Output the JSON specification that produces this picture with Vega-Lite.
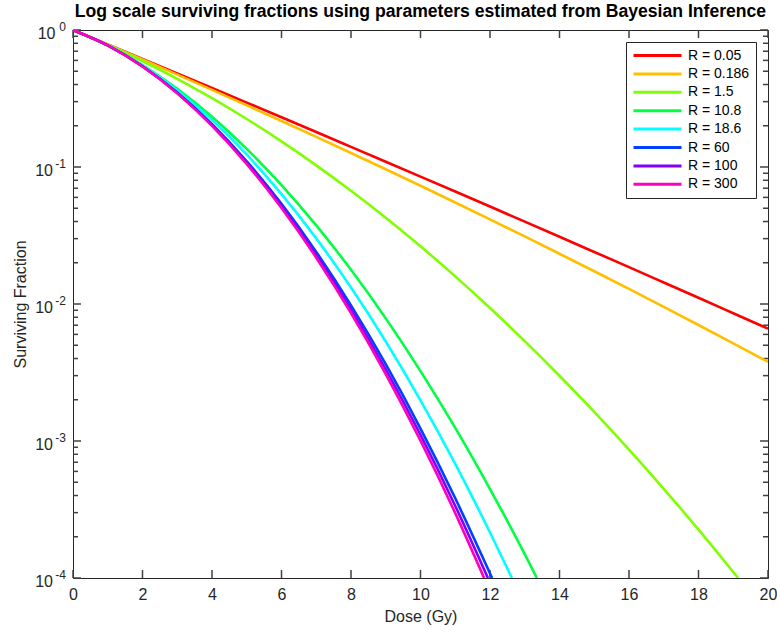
{
  "$schema": "https://vega.github.io/schema/vega-lite/v6.json",
  "width": 695,
  "height": 548,
  "autosize": {"type": "none"},
  "padding": {"left": 73, "top": 30, "right": 9, "bottom": 55},
  "background": "white",
  "title": {
    "text": "Log scale surviving fractions using parameters estimated from Bayesian Inference",
    "font": "Liberation Sans",
    "fontSize": 17.6,
    "fontWeight": "bold",
    "color": "#000000",
    "anchor": "middle",
    "offset": 0
  },
  "config": {
    "view": {"stroke": "#262626", "strokeWidth": 1},
    "font": "Liberation Sans",
    "axis": {
      "grid": false,
      "domain": false,
      "ticks": false,
      "labelColor": "#262626",
      "titleColor": "#262626",
      "labelFont": "Liberation Sans",
      "titleFont": "Liberation Sans",
      "labelFontSize": 16,
      "titleFontSize": 16,
      "titleFontWeight": "normal"
    }
  },
  "datasets": {
    "xTicks": [
      {"v": 0}, {"v": 2}, {"v": 4}, {"v": 6}, {"v": 8}, {"v": 10},
      {"v": 12}, {"v": 14}, {"v": 16}, {"v": 18}, {"v": 20}
    ],
    "yMajor": [
      {"v": 0.0001}, {"v": 0.001}, {"v": 0.01}, {"v": 0.1}, {"v": 1}
    ],
    "yMinor": [
      {"v": 0.0002}, {"v": 0.0003}, {"v": 0.0004}, {"v": 0.0005}, {"v": 0.0006}, {"v": 0.0007}, {"v": 0.0008}, {"v": 0.0009},
      {"v": 0.002}, {"v": 0.003}, {"v": 0.004}, {"v": 0.005}, {"v": 0.006}, {"v": 0.007}, {"v": 0.008}, {"v": 0.009},
      {"v": 0.02}, {"v": 0.03}, {"v": 0.04}, {"v": 0.05}, {"v": 0.06}, {"v": 0.07}, {"v": 0.08}, {"v": 0.09},
      {"v": 0.2}, {"v": 0.3}, {"v": 0.4}, {"v": 0.5}, {"v": 0.6}, {"v": 0.7}, {"v": 0.8}, {"v": 0.9}
    ],
    "exponents": [
      {"sf": 1, "exponent": "0"},
      {"sf": 0.1, "exponent": "-1"},
      {"sf": 0.01, "exponent": "-2"},
      {"sf": 0.001, "exponent": "-3"},
      {"sf": 0.0001, "exponent": "-4"}
    ],
    "curves": [
      {"series": "R = 0.05", "dose": 0, "sf": 1},
      {"series": "R = 0.05", "dose": 1, "sf": 0.7849},
      {"series": "R = 0.05", "dose": 2, "sf": 0.6155},
      {"series": "R = 0.05", "dose": 3, "sf": 0.4822},
      {"series": "R = 0.05", "dose": 4, "sf": 0.3774},
      {"series": "R = 0.05", "dose": 5, "sf": 0.2951},
      {"series": "R = 0.05", "dose": 6, "sf": 0.2306},
      {"series": "R = 0.05", "dose": 7, "sf": 0.18},
      {"series": "R = 0.05", "dose": 8, "sf": 0.1403},
      {"series": "R = 0.05", "dose": 9, "sf": 0.1093},
      {"series": "R = 0.05", "dose": 10, "sf": 0.0851},
      {"series": "R = 0.05", "dose": 11, "sf": 0.0662},
      {"series": "R = 0.05", "dose": 12, "sf": 0.05143},
      {"series": "R = 0.05", "dose": 13, "sf": 0.03992},
      {"series": "R = 0.05", "dose": 14, "sf": 0.03096},
      {"series": "R = 0.05", "dose": 15, "sf": 0.02399},
      {"series": "R = 0.05", "dose": 16, "sf": 0.01857},
      {"series": "R = 0.05", "dose": 17, "sf": 0.01436},
      {"series": "R = 0.05", "dose": 18, "sf": 0.0111},
      {"series": "R = 0.05", "dose": 19, "sf": 0.008566},
      {"series": "R = 0.05", "dose": 20, "sf": 0.006607},

      {"series": "R = 0.186", "dose": 0, "sf": 1},
      {"series": "R = 0.186", "dose": 1, "sf": 0.7815},
      {"series": "R = 0.186", "dose": 2, "sf": 0.6088},
      {"series": "R = 0.186", "dose": 3, "sf": 0.4726},
      {"series": "R = 0.186", "dose": 4, "sf": 0.3656},
      {"series": "R = 0.186", "dose": 5, "sf": 0.2818},
      {"series": "R = 0.186", "dose": 6, "sf": 0.2166},
      {"series": "R = 0.186", "dose": 7, "sf": 0.1658},
      {"series": "R = 0.186", "dose": 8, "sf": 0.1266},
      {"series": "R = 0.186", "dose": 9, "sf": 0.09624},
      {"series": "R = 0.186", "dose": 10, "sf": 0.07294},
      {"series": "R = 0.186", "dose": 11, "sf": 0.05509},
      {"series": "R = 0.186", "dose": 12, "sf": 0.04148},
      {"series": "R = 0.186", "dose": 13, "sf": 0.03112},
      {"series": "R = 0.186", "dose": 14, "sf": 0.02327},
      {"series": "R = 0.186", "dose": 15, "sf": 0.01734},
      {"series": "R = 0.186", "dose": 16, "sf": 0.01288},
      {"series": "R = 0.186", "dose": 17, "sf": 0.009529},
      {"series": "R = 0.186", "dose": 18, "sf": 0.007029},
      {"series": "R = 0.186", "dose": 19, "sf": 0.005166},
      {"series": "R = 0.186", "dose": 20, "sf": 0.003784},

      {"series": "R = 1.5", "dose": 0, "sf": 1},
      {"series": "R = 1.5", "dose": 1, "sf": 0.7806},
      {"series": "R = 1.5", "dose": 2, "sf": 0.5938},
      {"series": "R = 1.5", "dose": 3, "sf": 0.4403},
      {"series": "R = 1.5", "dose": 4, "sf": 0.3181},
      {"series": "R = 1.5", "dose": 5, "sf": 0.224},
      {"series": "R = 1.5", "dose": 6, "sf": 0.1537},
      {"series": "R = 1.5", "dose": 7, "sf": 0.1028},
      {"series": "R = 1.5", "dose": 8, "sf": 0.06702},
      {"series": "R = 1.5", "dose": 9, "sf": 0.04258},
      {"series": "R = 1.5", "dose": 10, "sf": 0.02636},
      {"series": "R = 1.5", "dose": 11, "sf": 0.01591},
      {"series": "R = 1.5", "dose": 12, "sf": 0.009355},
      {"series": "R = 1.5", "dose": 13, "sf": 0.005362},
      {"series": "R = 1.5", "dose": 14, "sf": 0.002995},
      {"series": "R = 1.5", "dose": 15, "sf": 0.00163},
      {"series": "R = 1.5", "dose": 16, "sf": 0.000865},
      {"series": "R = 1.5", "dose": 17, "sf": 0.000447},
      {"series": "R = 1.5", "dose": 18, "sf": 0.0002254},
      {"series": "R = 1.5", "dose": 19, "sf": 0.0001107},
      {"series": "R = 1.5", "dose": 19.14, "sf": 0.0001},

      {"series": "R = 10.8", "dose": 0, "sf": 1},
      {"series": "R = 10.8", "dose": 1, "sf": 0.7707},
      {"series": "R = 10.8", "dose": 2, "sf": 0.5541},
      {"series": "R = 10.8", "dose": 3, "sf": 0.3716},
      {"series": "R = 10.8", "dose": 4, "sf": 0.2325},
      {"series": "R = 10.8", "dose": 5, "sf": 0.1357},
      {"series": "R = 10.8", "dose": 6, "sf": 0.07385},
      {"series": "R = 10.8", "dose": 7, "sf": 0.03751},
      {"series": "R = 10.8", "dose": 8, "sf": 0.01776},
      {"series": "R = 10.8", "dose": 9, "sf": 0.007852},
      {"series": "R = 10.8", "dose": 10, "sf": 0.003236},
      {"series": "R = 10.8", "dose": 11, "sf": 0.001245},
      {"series": "R = 10.8", "dose": 12, "sf": 0.000446},
      {"series": "R = 10.8", "dose": 13, "sf": 0.0001494},
      {"series": "R = 10.8", "dose": 13.35, "sf": 0.0001},

      {"series": "R = 18.6", "dose": 0, "sf": 1},
      {"series": "R = 18.6", "dose": 1, "sf": 0.774},
      {"series": "R = 18.6", "dose": 2, "sf": 0.5522},
      {"series": "R = 18.6", "dose": 3, "sf": 0.3632},
      {"series": "R = 18.6", "dose": 4, "sf": 0.2203},
      {"series": "R = 18.6", "dose": 5, "sf": 0.1231},
      {"series": "R = 18.6", "dose": 6, "sf": 0.06343},
      {"series": "R = 18.6", "dose": 7, "sf": 0.03012},
      {"series": "R = 18.6", "dose": 8, "sf": 0.01319},
      {"series": "R = 18.6", "dose": 9, "sf": 0.005325},
      {"series": "R = 18.6", "dose": 10, "sf": 0.001982},
      {"series": "R = 18.6", "dose": 11, "sf": 0.0006798},
      {"series": "R = 18.6", "dose": 12, "sf": 0.0002149},
      {"series": "R = 18.6", "dose": 12.63, "sf": 0.0001},

      {"series": "R = 60", "dose": 0, "sf": 1},
      {"series": "R = 60", "dose": 1, "sf": 0.7719},
      {"series": "R = 60", "dose": 2, "sf": 0.5439},
      {"series": "R = 60", "dose": 3, "sf": 0.3497},
      {"series": "R = 60", "dose": 4, "sf": 0.2052},
      {"series": "R = 60", "dose": 5, "sf": 0.11},
      {"series": "R = 60", "dose": 6, "sf": 0.05377},
      {"series": "R = 60", "dose": 7, "sf": 0.024},
      {"series": "R = 60", "dose": 8, "sf": 0.009774},
      {"series": "R = 60", "dose": 9, "sf": 0.003634},
      {"series": "R = 60", "dose": 10, "sf": 0.001233},
      {"series": "R = 60", "dose": 11, "sf": 0.0003819},
      {"series": "R = 60", "dose": 12, "sf": 0.000108},
      {"series": "R = 60", "dose": 12.06, "sf": 0.0001},

      {"series": "R = 100", "dose": 0, "sf": 1},
      {"series": "R = 100", "dose": 1, "sf": 0.7717},
      {"series": "R = 100", "dose": 2, "sf": 0.5424},
      {"series": "R = 100", "dose": 3, "sf": 0.3471},
      {"series": "R = 100", "dose": 4, "sf": 0.2022},
      {"series": "R = 100", "dose": 5, "sf": 0.1073},
      {"series": "R = 100", "dose": 6, "sf": 0.05189},
      {"series": "R = 100", "dose": 7, "sf": 0.02283},
      {"series": "R = 100", "dose": 8, "sf": 0.009147},
      {"series": "R = 100", "dose": 9, "sf": 0.003338},
      {"series": "R = 100", "dose": 10, "sf": 0.001109},
      {"series": "R = 100", "dose": 11, "sf": 0.0003357},
      {"series": "R = 100", "dose": 11.94, "sf": 0.0001},

      {"series": "R = 300", "dose": 0, "sf": 1},
      {"series": "R = 300", "dose": 1, "sf": 0.7716},
      {"series": "R = 300", "dose": 2, "sf": 0.541},
      {"series": "R = 300", "dose": 3, "sf": 0.3447},
      {"series": "R = 300", "dose": 4, "sf": 0.1995},
      {"series": "R = 300", "dose": 5, "sf": 0.105},
      {"series": "R = 300", "dose": 6, "sf": 0.05017},
      {"series": "R = 300", "dose": 7, "sf": 0.02178},
      {"series": "R = 300", "dose": 8, "sf": 0.008598},
      {"series": "R = 300", "dose": 9, "sf": 0.003083},
      {"series": "R = 300", "dose": 10, "sf": 0.001005},
      {"series": "R = 300", "dose": 11, "sf": 0.0002975},
      {"series": "R = 300", "dose": 11.83, "sf": 0.0001}
    ]
  },
  "layer": [
    {
      "data": {"name": "xTicks"},
      "mark": {"type": "tick", "orient": "vertical", "size": 8, "thickness": 1.5, "color": "#404040", "opacity": 1, "yOffset": -4},
      "encoding": {
        "x": {"field": "v", "type": "quantitative", "axis": null},
        "y": {"datum": 0.0001, "type": "quantitative", "axis": null}
      }
    },
    {
      "data": {"name": "xTicks"},
      "mark": {"type": "tick", "orient": "vertical", "size": 8, "thickness": 1.5, "color": "#404040", "opacity": 1, "yOffset": 4},
      "encoding": {
        "x": {"field": "v", "type": "quantitative", "axis": null},
        "y": {"datum": 1, "type": "quantitative", "axis": null}
      }
    },
    {
      "data": {"name": "yMajor"},
      "mark": {"type": "tick", "orient": "horizontal", "size": 8, "thickness": 1.5, "color": "#404040", "opacity": 1, "xOffset": 4},
      "encoding": {
        "x": {"datum": 0, "type": "quantitative", "axis": null},
        "y": {"field": "v", "type": "quantitative", "axis": null}
      }
    },
    {
      "data": {"name": "yMajor"},
      "mark": {"type": "tick", "orient": "horizontal", "size": 8, "thickness": 1.5, "color": "#404040", "opacity": 1, "xOffset": -4},
      "encoding": {
        "x": {"datum": 20, "type": "quantitative", "axis": null},
        "y": {"field": "v", "type": "quantitative", "axis": null}
      }
    },
    {
      "data": {"name": "yMinor"},
      "mark": {"type": "tick", "orient": "horizontal", "size": 5, "thickness": 1.5, "color": "#404040", "opacity": 1, "xOffset": 2.5},
      "encoding": {
        "x": {"datum": 0, "type": "quantitative", "axis": null},
        "y": {"field": "v", "type": "quantitative", "axis": null}
      }
    },
    {
      "data": {"name": "yMinor"},
      "mark": {"type": "tick", "orient": "horizontal", "size": 5, "thickness": 1.5, "color": "#404040", "opacity": 1, "xOffset": -2.5},
      "encoding": {
        "x": {"datum": 20, "type": "quantitative", "axis": null},
        "y": {"field": "v", "type": "quantitative", "axis": null}
      }
    },
    {
      "data": {"name": "curves"},
      "mark": {"type": "line", "strokeWidth": 2.6, "interpolate": "monotone", "clip": true},
      "encoding": {
        "x": {
          "field": "dose",
          "type": "quantitative",
          "scale": {"domain": [0, 20], "nice": false, "zero": false},
          "axis": {
            "orient": "bottom",
            "title": "Dose (Gy)",
            "values": [0, 2, 4, 6, 8, 10, 12, 14, 16, 18, 20],
            "format": "d",
            "labelPadding": 8,
            "titlePadding": 6,
            "labelFlush": false
          }
        },
        "y": {
          "field": "sf",
          "type": "quantitative",
          "scale": {"type": "log", "domain": [0.0001, 1], "nice": false},
          "axis": {
            "orient": "left",
            "title": "Surviving Fraction",
            "titlePadding": 6,
            "values": [0.0001, 0.001, 0.01, 0.1, 1],
            "labelExpr": "'10'",
            "labelPadding": {"condition": {"test": "datum.value > 0.5", "value": 18}, "value": 20.5},
            "labelBaseline": "middle",
            "labelOffset": 3.5,
            "labelFlush": false
          }
        },
        "color": {
          "field": "series",
          "type": "nominal",
          "sort": null,
          "scale": {
            "domain": ["R = 0.05", "R = 0.186", "R = 1.5", "R = 10.8", "R = 18.6", "R = 60", "R = 100", "R = 300"],
            "range": ["#FF0000", "#FFBF00", "#80FF00", "#00FF40", "#00FFFF", "#0040FF", "#8000FF", "#FF00BF"]
          },
          "legend": {
            "title": null,
            "orient": "none",
            "legendX": 553,
            "legendY": 12,
            "direction": "vertical",
            "strokeColor": "#262626",
            "fillColor": "#FFFFFF",
            "padding": 6,
            "symbolType": "stroke",
            "symbolSize": 2304,
            "symbolStrokeWidth": 3,
            "clipHeight": 15,
            "rowPadding": 3.4,
            "labelFont": "Liberation Sans",
            "labelFontSize": 14,
            "labelColor": "#000000",
            "labelOffset": 5
          }
        }
      }
    },
    {
      "data": {"name": "exponents"},
      "mark": {
        "type": "text",
        "align": "right",
        "baseline": "alphabetic",
        "dx": -7,
        "dy": 1,
        "font": "Liberation Sans",
        "fontSize": 12,
        "color": "#262626"
      },
      "encoding": {
        "x": {"datum": 0, "type": "quantitative", "axis": null},
        "y": {"field": "sf", "type": "quantitative", "axis": null},
        "text": {"field": "exponent"}
      }
    }
  ],
  "resolve": {"axis": {"x": "independent", "y": "independent"}}
}
